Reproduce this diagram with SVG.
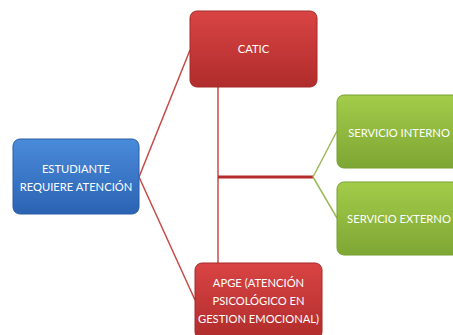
<svg xmlns="http://www.w3.org/2000/svg" width="453" height="335" viewBox="0 0 453 335">
<style>
.t{font-family:Lato,"Liberation Sans",sans-serif;font-size:11.2px;fill:#fff;text-anchor:middle}
.rl{stroke:#c84a47;stroke-width:1.5;fill:none}
.gl{stroke:#9bbb59;stroke-width:1.5;fill:none}
</style>
<defs>
<linearGradient id="gb" x1="0" y1="0" x2="0" y2="1"><stop offset="0" stop-color="#4a8bd9"/><stop offset="1" stop-color="#2b63b3"/></linearGradient>
<linearGradient id="gr" x1="0" y1="0" x2="0" y2="1"><stop offset="0" stop-color="#d94444"/><stop offset="1" stop-color="#b02c2c"/></linearGradient>
<linearGradient id="gg" x1="0" y1="0" x2="0" y2="1"><stop offset="0" stop-color="#a3cc4a"/><stop offset="1" stop-color="#7ea634"/></linearGradient>
</defs>
<g id="connectors">
<path class="rl" d="M139,177 L190,50 M139,177 L195,300"/>
<path class="rl" d="M218,87 V263"/>
<path d="M218,177 H313" stroke="#b52a2a" stroke-width="3" fill="none"/>
<path class="gl" d="M313,177 L337,131 M313,177 L337,218"/>
</g>
<g id="estudiante">
<rect x="13" y="139" width="126" height="75" rx="7" fill="url(#gb)" stroke="#2a5ea8" stroke-width="1"/>
<text class="t" x="76" y="173">ESTUDIANTE</text>
<text class="t" x="76" y="191">REQUIERE ATENCIÓN</text>
</g>
<g id="catic">
<rect x="190" y="11" width="127" height="76" rx="7" fill="url(#gr)" stroke="#a52828" stroke-width="1"/>
<text class="t" x="253.5" y="53">CATIC</text>
</g>
<g id="apge">
<rect x="195" y="263" width="127" height="76" rx="7" fill="url(#gr)" stroke="#a52828" stroke-width="1"/>
<text class="t" x="258.5" y="287">APGE (ATENCIÓN</text>
<text class="t" x="258.5" y="305">PSICOLÓGICO EN</text>
<text class="t" x="258.5" y="323">GESTION EMOCIONAL)</text>
</g>
<g id="interno">
<rect x="337" y="95" width="126" height="73" rx="7" fill="url(#gg)" stroke="#76a02e" stroke-width="1"/>
<text class="t" x="399" y="137">SERVICIO INTERNO</text>
</g>
<g id="externo">
<rect x="337" y="182" width="126" height="73" rx="7" fill="url(#gg)" stroke="#76a02e" stroke-width="1"/>
<text class="t" x="399" y="223">SERVICIO EXTERNO</text>
</g>
</svg>
